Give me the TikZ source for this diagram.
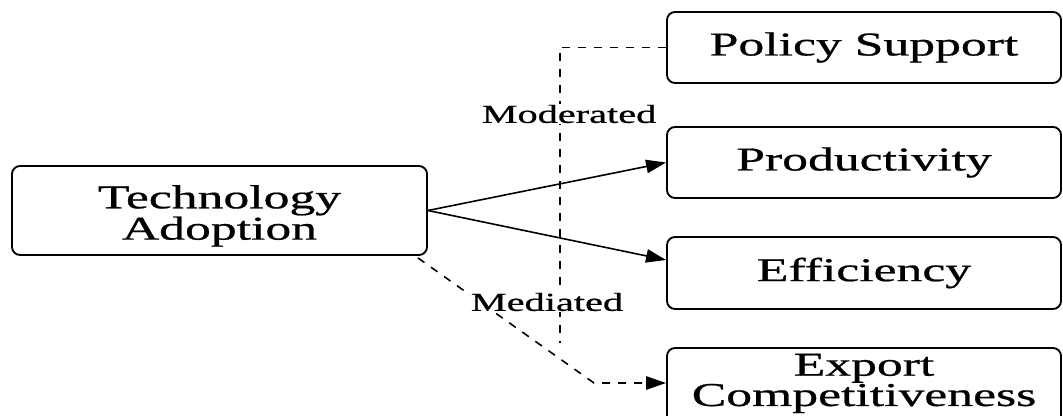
\documentclass[tikz,border=0pt]{standalone}
\usepackage{fontspec}
\setmainfont{Liberation Serif}[FakeBold=0.6]
\usetikzlibrary{arrows.meta,calc}
\newcommand{\hst}[1]{\scalebox{1.55}[1]{#1}}
\newcommand{\twol}[2]{\scalebox{1.55}[1]{\begin{tabular}{@{}c@{}}#1\\#2\end{tabular}}}
\begin{document}
\begin{tikzpicture}[x=0.75pt,y=-0.75pt,
  box/.style={draw, line width=1.4pt, rounded corners=6pt, minimum width=394*0.75pt, inner sep=0pt, font=\fontsize{25}{20.5}\selectfont},
  lab/.style={fill=white, inner sep=1pt, font=\fontsize{19.5}{22}\selectfont},
  conn/.style={line width=1.2pt},
  arr/.style={conn, -{Triangle[length=15pt,width=10pt]}},
  dsh/.style={conn, dash pattern=on 6pt off 6pt}]
\useasboundingbox (0,0) rectangle (1063,416);
\node[box, minimum width=415*0.75pt, minimum height=89*0.75pt] (tech) at (219.5,210.5) {\raisebox{-4.5pt}[\height][\depth]{\twol{Technology}{Adoption}}};
\node[box, minimum height=71*0.75pt] (pol) at (864,47.5) {\hst{Policy Support}};
\node[box, minimum height=71*0.75pt] (prod) at (864,162.5) {\hst{Productivity}};
\node[box, minimum height=72*0.75pt] (eff) at (864,273) {\hst{Efficiency}};
\node[box, minimum height=88*0.75pt] (exp) at (864,392) {\raisebox{6pt}[\height][\depth]{\twol{Export}{Competitiveness}}};
\coordinate (mc) at (560,47.5);
\coordinate (mend) at (560,343);
\coordinate (mb) at (594,383);
\draw[arr] (tech.east) -- (prod.west);
\draw[arr] (tech.east) -- ([yshift=9.75pt]eff.west);
\draw[dsh] (pol.west) -- (mc) -- (mend);
\draw[dsh, -{Triangle[length=15pt,width=10pt]}] ([xshift=-7.5pt,yshift=-1.5pt]tech.south east) -- (mb) -- (exp.west |- mb);
\node[lab] (modl) at (569,114) {\hst{Moderated}};
\node[lab] (medl) at (547,302) {\hst{Mediated}};
\end{tikzpicture}
\end{document}
